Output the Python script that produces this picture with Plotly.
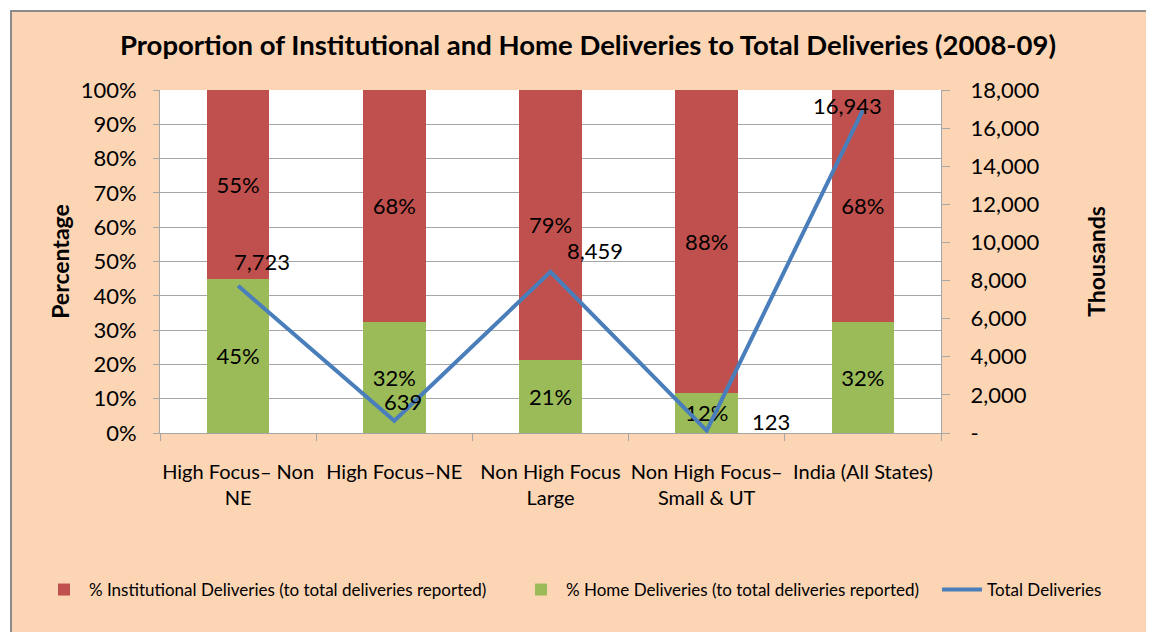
import plotly.graph_objects as go

categories = ["High Focus– Non<br>NE", "High Focus–NE", "Non High Focus<br>Large",
              "Non High Focus–<br>Small & UT", "India (All States)"]
institutional = [55.1, 67.6, 78.7, 88.3, 67.6]
home = [44.9, 32.4, 21.3, 11.7, 32.4]
total_deliveries = [7723, 639, 8459, 123, 16943]
right_tick_vals = [0, 2000, 4000, 6000, 8000, 10000, 12000, 14000, 16000, 18000]
right_tick_text = ["-", "2,000", "4,000", "6,000", "8,000", "10,000", "12,000", "14,000", "16,000", "18,000"]
# label offsets (px) for line data labels
label_shift_x = [24, 9, 44, 64, -15]
label_shift_y = [24, 19, 21, 9, 5]

FONT = "Lato"
RED = "#C0504D"
GREEN = "#9BBB59"
BLUE = "#4A7EBB"
BG = "#FCD5B5"
GRID = "#A6A6A6"

# page is offset by the browser's 8px body margin
OFF = 8
W, H = 1154 - OFF, 632 - OFF
L, T, R, B = 160 - OFF, 90 - OFF, 1154 - 941, 632 - 433
PW, PH = W - L - R, H - T - B


def px(xpage):
    return (xpage - OFF - L) / PW


def py(ypage):
    return 1 - (ypage - OFF - T) / PH


fig = go.Figure()
fig.add_trace(go.Bar(
    x=categories, y=home, name="% Home Deliveries (to total deliveries reported)",
    marker=dict(color=GREEN, line=dict(width=0)),
    texttemplate="%{y:.0f}%", textposition="inside", insidetextanchor="middle",
    textfont=dict(family=FONT, size=22, color="black"), textangle=0,
    legend="legend2",
))
fig.add_trace(go.Bar(
    x=categories, y=institutional, name="% Institutional Deliveries (to total deliveries reported)",
    marker=dict(color=RED, line=dict(width=0)),
    texttemplate="%{y:.0f}%", textposition="inside", insidetextanchor="middle",
    textfont=dict(family=FONT, size=22, color="black"), textangle=0,
    legend="legend",
))
fig.add_trace(go.Scatter(
    x=categories, y=total_deliveries, name="Total Deliveries", yaxis="y2",
    mode="lines", line=dict(color=BLUE, width=4),
    legend="legend3",
))

for c, v, sx, sy in zip(categories, total_deliveries, label_shift_x, label_shift_y):
    fig.add_annotation(x=c, y=v, xref="x", yref="y2", text=f"{v:,}", showarrow=False,
                       xshift=sx, yshift=sy, font=dict(family=FONT, size=22, color="black"))

# chart area background with border (top and left edges visible)
fig.add_shape(type="rect", xref="paper", yref="paper",
              x0=px(11), x1=px(1400), y0=py(800), y1=py(11),
              fillcolor=BG, line=dict(color="#8C8C8C", width=2), layer="below")
fig.add_shape(type="rect", xref="paper", yref="paper", x0=0, x1=1, y0=0, y1=1,
              fillcolor="white", line=dict(width=0), layer="below")

legend_common = dict(orientation="h", yanchor="middle", xanchor="left",
                     font=dict(family=FONT, size=17, color="black"),
                     bgcolor="rgba(0,0,0,0)", itemwidth=40)

fig.update_layout(
    width=W, height=H,
    margin=dict(l=L, r=R, t=T, b=B, autoexpand=False),
    paper_bgcolor="white", plot_bgcolor="white",
    barmode="stack", bargap=0.6,
    title=dict(text="<b>Proportion of Institutional and Home Deliveries to Total Deliveries (2008-09)</b>",
               x=(588 - OFF) / W, xanchor="center", y=1 - (45 - OFF) / H, yanchor="middle",
               font=dict(family=FONT, size=27.5, color="black")),
    font=dict(family=FONT, color="black"),
    xaxis=dict(tickson="boundaries", ticks="outside", ticklen=7, tickcolor=GRID,
               showline=True, linecolor=GRID, linewidth=1, showgrid=False,
               ticklabelstandoff=21, tickangle=0,
               tickfont=dict(family=FONT, size=20, color="black")),
    yaxis=dict(range=[0, 100], dtick=10, ticksuffix="%", showgrid=True, gridcolor=GRID,
               showline=True, linecolor=GRID, ticks="outside", ticklen=6, tickcolor=GRID,
               ticklabelstandoff=12,
               tickfont=dict(family=FONT, size=22, color="black"), zeroline=False,
               title=dict(text="<b>Percentage</b>", font=dict(family=FONT, size=23), standoff=4)),
    yaxis2=dict(range=[0, 18000], overlaying="y", side="right", tickvals=right_tick_vals,
                ticktext=right_tick_text, showgrid=False, showline=True, linecolor=GRID,
                ticks="outside", ticklen=8, tickcolor=GRID, zeroline=False,
                ticklabelstandoff=16,
                tickfont=dict(family=FONT, size=22, color="black"),
                title=dict(text="<b>Thousands</b>", font=dict(family=FONT, size=23), standoff=50)),
    legend=dict(x=px(39), y=py(590), **legend_common),
    legend2=dict(x=px(516), y=py(590), **legend_common),
    legend3=dict(x=px(937), y=py(590), **legend_common),
    showlegend=True,
)

fig.write_html("out.html")
